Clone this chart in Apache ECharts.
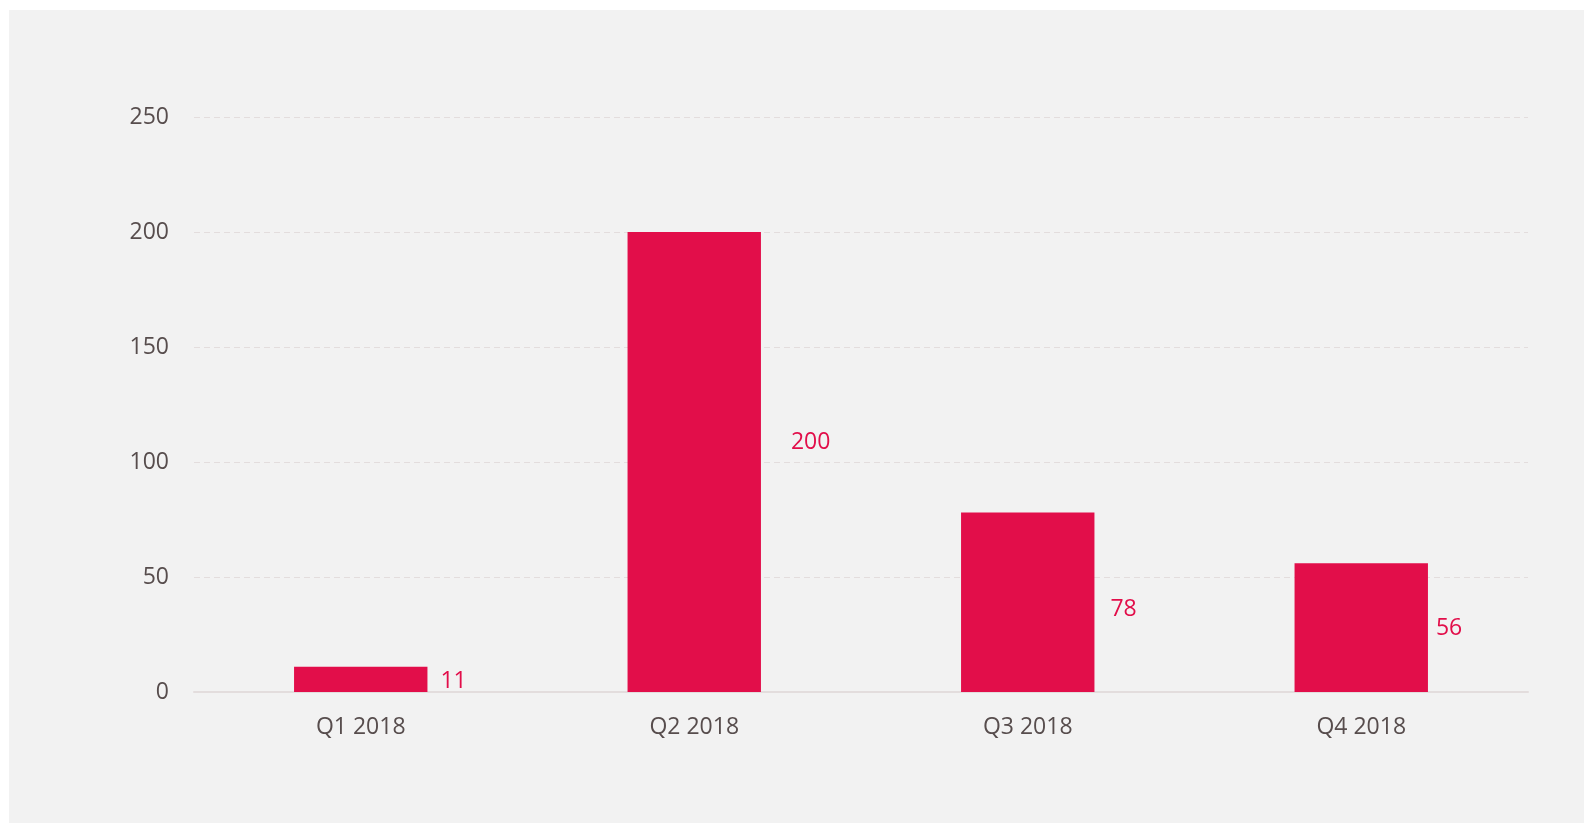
<!DOCTYPE html>
<html>
<head>
<meta charset="utf-8">
<script src="https://cdn.jsdelivr.net/npm/echarts@6/dist/echarts.min.js"></script>
<style>
html,body{margin:0;padding:0;background:#ffffff;width:1584px;height:823px;overflow:hidden;}
#chart{position:absolute;left:9px;top:10px;width:1575px;height:813px;background:#f2f2f2;}
</style>
</head>
<body>
<div id="chart"></div>
<script>
const categories = ['Q1 2018', 'Q2 2018', 'Q3 2018', 'Q4 2018'];
const values = [11, 200, 78, 56];
const yTicks = [0, 50, 100, 150, 200, 250];

const labelOffsets = [[13, 2], [30, -20], [16, 7], [8, 1]];
const barColor = '#e20e4a';
const textColor = '#574d4d';
const font = '"Open Sans", "Noto Sans", sans-serif';

const chart = echarts.init(document.getElementById('chart'));
chart.setOption({
  backgroundColor: '#f2f2f2',
  animation: false,
  grid: { left: 185, top: 107, width: 1334, height: 575, containLabel: false },
  xAxis: {
    type: 'category',
    data: categories,
    axisLine: { lineStyle: { color: '#e3dddd', width: 2 } },
    axisTick: { show: false },
    axisLabel: { color: textColor, fontSize: 23, fontFamily: font, margin: 24 }
  },
  yAxis: {
    type: 'value',
    min: yTicks[0],
    max: yTicks[yTicks.length - 1],
    interval: 50,
    axisLine: { show: false },
    axisTick: { show: false },
    axisLabel: { color: textColor, fontSize: 23, fontFamily: font, margin: 25 },
    splitLine: { lineStyle: { color: '#e3dddd', type: [6, 4], width: 1 } }
  },
  series: [{
    type: 'bar',
    barWidth: '40%',
    data: values.map((v, i) => ({
      value: v,
      label: { offset: labelOffsets[i] }
    })),
    itemStyle: { color: barColor },
    label: {
      show: true,
      position: 'right',
      distance: 0,
      color: barColor,
      fontSize: 23,
      fontFamily: font
    }
  }]
});
</script>
</body>
</html>
